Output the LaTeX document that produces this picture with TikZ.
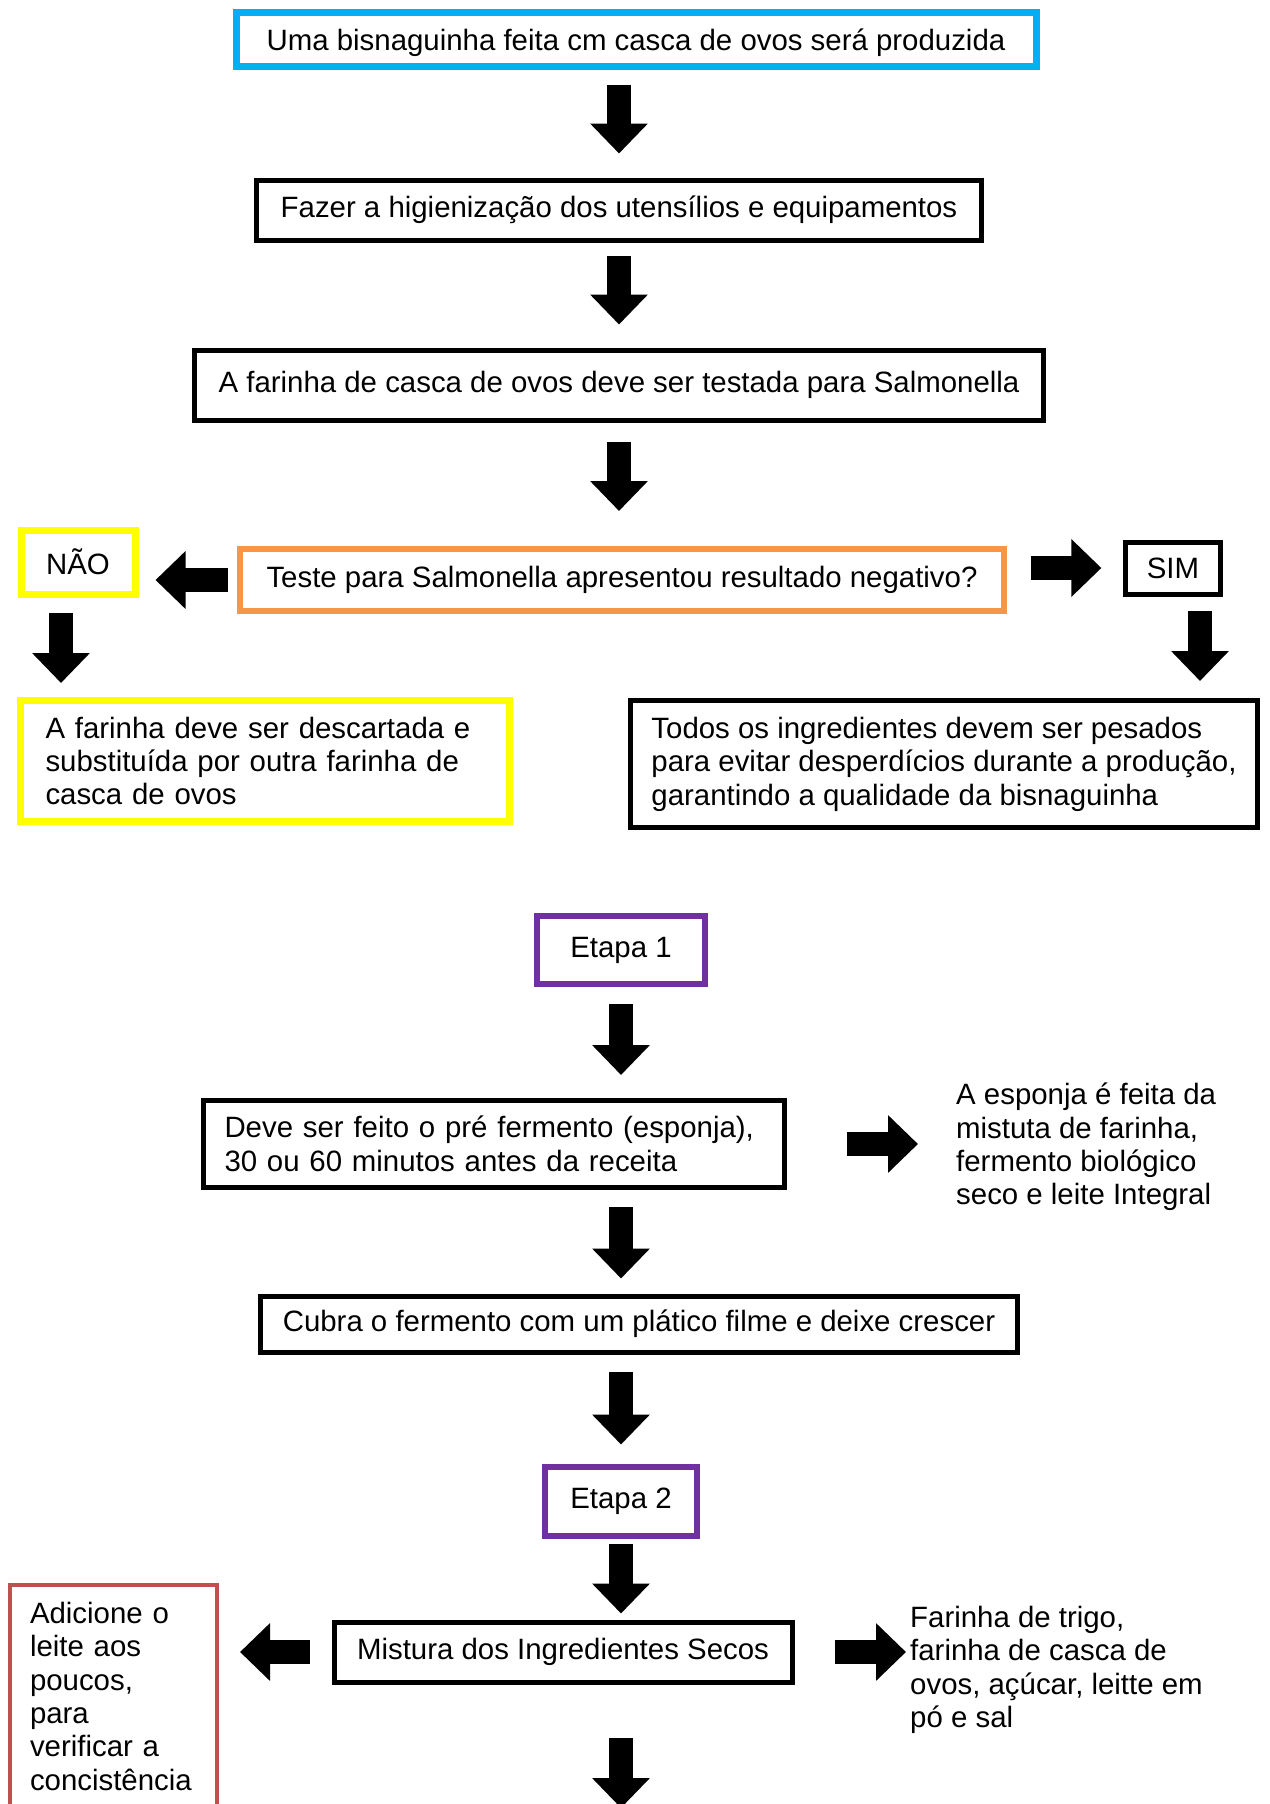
\documentclass[tikz,border=0pt]{standalone}
\usepackage{fontspec}
\setmainfont{Liberation Sans}
\usetikzlibrary{arrows.meta}
\definecolor{azul}{HTML}{00B0F0}
\definecolor{laranja}{HTML}{F79646}
\definecolor{amarelo}{HTML}{FFFF00}
\definecolor{roxo}{HTML}{7030A0}
\definecolor{vermelho}{HTML}{C0504D}

\begin{document}
\begin{tikzpicture}[x=1pt, y=-1pt,
    every node/.style={font=\fontsize{29.4}{33.4}\selectfont, inner sep=0pt},
    caixa/.style={draw, line width=5pt, inner xsep=21pt, inner ysep=8pt},
    nota/.style={align=left, anchor=west},
    seta/.style={line width=24pt, -{Triangle[length=30pt, width=56pt]}}]

    \useasboundingbox (0,0) rectangle (1269,1804);

    \node[caixa, draw=azul, line width=7pt, minimum width=800pt, minimum height=54pt, text height=30pt] (inicio) at (636,39) {Uma bisnaguinha feita cm casca de ovos será produzida};
    \node[caixa, minimum width=725pt, minimum height=60pt] (higiene) at (619,210) {Fazer a higienização dos utensílios e equipamentos};
    \node[caixa, minimum width=849pt, minimum height=70pt] (teste) at (619,385) {A farinha de casca de ovos deve ser testada para Salmonella};
    \node[caixa, draw=laranja, line width=6pt, minimum width=764pt, minimum height=62pt] (negativo) at (622,580) {Teste para Salmonella apresentou resultado negativo?};
    \node[caixa, draw=amarelo, line width=7pt, minimum width=114pt, minimum height=64pt] (nao) at (78,562) {NÃO};
    \node[caixa, draw=amarelo, line width=7pt, text width=439pt, inner xsep=25pt, align=left, minimum height=121pt] (descarte) at (265,761) {A farinha deve ser descartada e\\substituída por outra farinha de\\casca de ovos};
    \node[caixa, minimum width=94pt, minimum height=52pt] (sim) at (1173,568) {SIM};
    \node[caixa, align=left, minimum width=627pt, minimum height=127pt] (pesagem) at (944,764) {Todos os ingredientes devem ser pesados\\para evitar desperdícios durante a produção,\\garantindo a qualidade da bisnaguinha};
    \node[caixa, draw=roxo, line width=6pt, minimum width=168pt, minimum height=68pt] (etapa1) at (621,950) {Etapa 1};
    \node[caixa, text width=539pt, inner xsep=21pt, align=left, minimum height=87pt] (esponja) at (494,1144) {Deve ser feito o pré fermento (esponja),\\30 ou 60 minutos antes da receita};
    \node[nota] (receita) at (956,1147) {A esponja é feita da\\mistuta de farinha,\\fermento biológico\\seco e leite Integral};
    \node[caixa, minimum width=757pt, minimum height=56pt] (cubra) at (639,1324) {Cubra o fermento com um plático filme e deixe crescer};
    \node[caixa, draw=roxo, line width=6pt, minimum width=152pt, minimum height=69pt] (etapa2) at (621,1501) {Etapa 2};
    \node[caixa, minimum width=458pt, minimum height=60pt] (mistura) at (563,1652) {Mistura dos Ingredientes Secos};
    \node[nota] (secos) at (910,1670) {Farinha de trigo,\\farinha de casca de\\ovos, açúcar, leitte em\\pó e sal};
    \node[caixa, draw=vermelho, line width=4pt, anchor=north west, text width=167pt, inner xsep=20pt, align=left, inner ysep=17pt, text depth=240pt] (leite) at (8,1583) {Adicione o\\leite aos\\poucos,\\para\\verificar a\\concistência};
    \coordinate (fim) at (621,1808);

    \draw[seta, shorten <=15pt, shorten >=24pt] (inicio.south -| higiene.north) -- (higiene.north);
    \draw[seta, shorten <=13pt, shorten >=23pt] (higiene.south) -- (higiene.south |- teste.north);
    \draw[seta, shorten <=19pt, shorten >=35pt] (teste.south) -- (teste.south |- negativo.north);
    \draw[seta, shorten <=9pt, shorten >=17pt] (negativo.west) -- (nao.east |- negativo.west);
    \draw[seta, shorten <=15pt, shorten >=14pt] ([xshift=-17pt]nao.south) -- ([xshift=-17pt]nao.south |- descarte.north);
    \draw[seta, shorten <=24pt, shorten >=22pt] (negativo.east |- sim.west) -- (sim.west);
    \draw[seta, shorten <=14pt, shorten >=17pt] ([xshift=27pt]sim.south) -- ([xshift=27pt]sim.south |- pesagem.north);
    \draw[seta, shorten <=17pt, shorten >=23pt] (etapa1.south) -- (etapa1.south |- esponja.north);
    \draw[seta, shorten <=60pt, shorten >=38pt] (esponja.east) -- (esponja.east -| receita.west);
    \draw[seta, shorten <=17pt, shorten >=15pt] (etapa1.south |- esponja.south) -- (etapa1.south |- cubra.north);
    \draw[seta, shorten <=17pt, shorten >=19pt] (etapa2.north |- cubra.south) -- (etapa2.north);
    \draw[seta, shorten <=5pt, shorten >=6pt] (etapa2.south) -- (etapa2.south |- mistura.north);
    \draw[seta, shorten <=22pt, shorten >=21pt] (mistura.west) -- (mistura.west -| leite.east);
    \draw[seta, shorten <=40pt, shorten >=4pt] (mistura.east) -- (mistura.east -| secos.west);
    \draw[seta, shorten <=53pt] (etapa2.south |- mistura.south) -- (fim);
\end{tikzpicture}
\end{document}
